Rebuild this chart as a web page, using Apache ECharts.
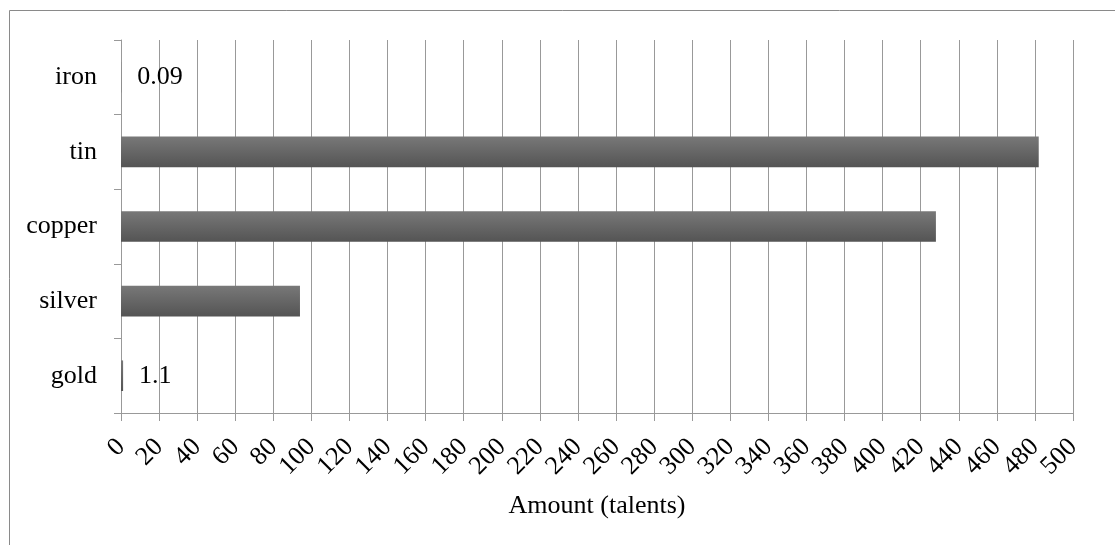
<!DOCTYPE html>
<html>
<head>
<meta charset="utf-8">
<script src="https://cdn.jsdelivr.net/npm/echarts@6/dist/echarts.min.js"></script>
<style>
  html, body { margin: 0; padding: 0; background: #fff; }
  #chart { width: 1115px; height: 545px; }
</style>
</head>
<body>
<div id="chart"></div>
<script>
// Metals and their amounts, bottom to top
const metals = ['gold', 'silver', 'copper', 'tin', 'iron'];
const amounts = [1.1, 94, 428, 482, 0.09];
// Which bars carry a value label
const labelled = [true, false, false, false, true];

const axisMin = 0;
const axisMax = 500;
const axisStep = 20;

const FONT = '"Liberation Serif", "Times New Roman", serif';

const chart = echarts.init(document.getElementById('chart'), null, { renderer: 'canvas' });

const barData = amounts.map((v, i) => ({
  value: v,
  label: { show: labelled[i] }
}));

chart.setOption({
  animation: false,
  backgroundColor: '#ffffff',
  textStyle: { fontFamily: FONT, color: '#000' },
  graphic: [{
    type: 'rect',
    shape: { x: 9.5, y: 10.5, width: 1200, height: 600 },
    style: { fill: 'none', stroke: '#8a8a8a', lineWidth: 1 },
    silent: true
  }],
  grid: { left: 121, right: 42, top: 40, bottom: 132, containLabel: false },
  xAxis: {
    type: 'value',
    min: axisMin,
    max: axisMax,
    interval: axisStep,
    name: 'Amount (talents)',
    nameLocation: 'middle',
    nameGap: 80,
    nameTextStyle: { fontFamily: FONT, fontSize: 26, color: '#000' },
    axisLine: { show: true, lineStyle: { color: '#999', width: 1 } },
    axisTick: { show: true, length: 8, lineStyle: { color: '#999' } },
    axisLabel: { rotate: 45, margin: 30, fontFamily: FONT, fontSize: 26, color: '#000' },
    splitLine: { show: true, lineStyle: { color: '#999', width: 1 } }
  },
  yAxis: {
    type: 'category',
    data: metals,
    axisLine: { show: true, lineStyle: { color: '#999', width: 1 } },
    axisTick: { show: true, length: 7, lineStyle: { color: '#999' } },
    axisLabel: { margin: 24, fontFamily: FONT, fontSize: 26, color: '#000' },
    splitLine: { show: false }
  },
  series: [{
    type: 'bar',
    data: barData,
    barWidth: '41%',
    itemStyle: {
      color: new echarts.graphic.LinearGradient(0, 0, 0, 1, [
        { offset: 0, color: '#787878' },
        { offset: 1, color: '#545454' }
      ])
    },
    label: {
      position: 'right',
      distance: 16,
      fontFamily: FONT,
      fontSize: 26,
      color: '#000',
      formatter: p => String(p.value)
    }
  }]
});
</script>
</body>
</html>
